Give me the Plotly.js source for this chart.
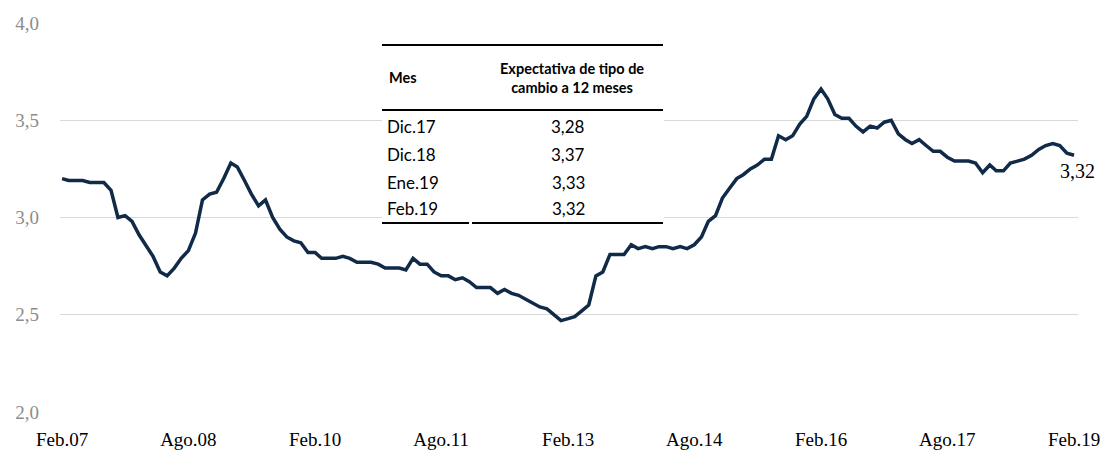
<!DOCTYPE html>
<html>
<head>
<meta charset="utf-8">
<script src="https://cdn.plot.ly/plotly-3.0.1.min.js"></script>
<style>html,body{margin:0;padding:0;background:#fff;}#chart{width:1108px;height:453px;}</style>
</head>
<body>
<div id="chart"></div>
<script>
// Monthly 12-month exchange-rate expectation, Feb.07 .. Feb.19 (S/ por US$)
const startYear = 2007, startMonth = 2;
const values = [
  3.20,3.19,3.19,3.19,3.18,3.18,3.18,3.14,3.00,3.01,2.98,2.91,
  2.85,2.80,2.72,2.70,2.74,2.79,2.83,2.92,3.09,3.12,3.13,3.20,
  3.28,3.26,3.19,3.12,3.06,3.09,3.00,2.94,2.90,2.88,2.87,2.82,
  2.82,2.79,2.79,2.79,2.80,2.79,2.77,2.77,2.77,2.76,2.74,2.74,
  2.74,2.73,2.79,2.76,2.76,2.72,2.70,2.70,2.68,2.69,2.67,2.64,
  2.64,2.64,2.61,2.63,2.61,2.60,2.58,2.56,2.54,2.53,2.50,2.47,
  2.48,2.49,2.52,2.55,2.70,2.72,2.81,2.81,2.81,2.86,2.84,2.85,
  2.84,2.85,2.85,2.84,2.85,2.84,2.86,2.90,2.98,3.01,3.10,3.15,
  3.20,3.22,3.25,3.27,3.30,3.30,3.42,3.40,3.42,3.48,3.52,3.61,
  3.66,3.61,3.53,3.51,3.51,3.47,3.44,3.47,3.46,3.49,3.50,3.43,
  3.40,3.38,3.40,3.37,3.34,3.34,3.31,3.29,3.29,3.29,3.28,3.23,
  3.27,3.24,3.24,3.28,3.29,3.30,3.32,3.35,3.37,3.38,3.37,3.33,
  3.32
];
const tickDates = ["2007-02-01","2008-08-01","2010-02-01","2011-08-01","2013-02-01","2014-08-01","2016-02-01","2017-08-01","2019-02-01"];
const tickLabels = ["Feb.07","Ago.08","Feb.10","Ago.11","Feb.13","Ago.14","Feb.16","Ago.17","Feb.19"];
const yTicks = [2.0, 2.5, 3.0, 3.5, 4.0];
const yTickLabels = ["2,0","2,5","3,0","3,5","4,0"];
const tableMonths = ["Dic.17","Dic.18","Ene.19","Feb.19"];
const tableValues = ["3,28","3,37","3,33","3,32"];
const tableHeader = ["Mes","Expectativa de tipo de<br>cambio a 12 meses"];
const lastLabel = "3,32";

// month dates for the series
const dates = values.map((_, i) => {
  const m = startMonth - 1 + i;
  const y = startYear + Math.floor(m / 12);
  const mm = (m % 12) + 1;
  return y + "-" + String(mm).padStart(2, "0") + "-01";
});

// pixel -> paper helpers (plot area: x 60..1078, y 23..412)
const L = 60, R = 1078, T = 23, B = 412;
const px = x => (x - L) / (R - L);
const py = y => (B - y) / (B - T);

const shapes = [
  {type:"rect", xref:"paper", yref:"paper", x0:px(382), x1:px(664), y0:py(224), y1:py(44), fillcolor:"#ffffff", line:{width:0}, layer:"above"},
  {type:"line", xref:"paper", yref:"paper", x0:px(382), x1:px(663), y0:py(45), y1:py(45), line:{color:"#000", width:2}, layer:"above"},
  {type:"line", xref:"paper", yref:"paper", x0:px(382), x1:px(663), y0:py(110), y1:py(110), line:{color:"#000", width:2}, layer:"above"},
  {type:"line", xref:"paper", yref:"paper", x0:px(382), x1:px(469), y0:py(223), y1:py(223), line:{color:"#000", width:2}, layer:"above"},
  {type:"line", xref:"paper", yref:"paper", x0:px(472), x1:px(663), y0:py(223), y1:py(223), line:{color:"#000", width:2}, layer:"above"}
];

const tfont = "Lato";
const serif = "Liberation Serif";
const annotations = [
  {xref:"paper", yref:"paper", x:px(387), y:py(78), xanchor:"left", yanchor:"middle", text:"<b>"+tableHeader[0]+"</b>", showarrow:false, font:{family:tfont, size:14.5, color:"#000"}},
  {xref:"paper", yref:"paper", x:px(572), y:py(78), xanchor:"center", yanchor:"middle", text:"<b>"+tableHeader[1]+"</b>", showarrow:false, align:"center", font:{family:tfont, size:14.5, color:"#000"}},
  {xref:"x", yref:"y", x:dates[dates.length-1], y:values[values.length-1], xanchor:"center", yanchor:"top", xshift:3, yshift:-3, text:lastLabel, showarrow:false, font:{family:serif, size:20, color:"#000"}}
];
const rowY = [127, 154, 182, 209];
tableMonths.forEach((m, i) => {
  annotations.push({xref:"paper", yref:"paper", x:px(385), y:py(rowY[i]), xanchor:"left", yanchor:"middle", text:m, showarrow:false, font:{family:tfont, size:17, color:"#000"}});
  annotations.push({xref:"paper", yref:"paper", x:px(568), y:py(rowY[i]), xanchor:"center", yanchor:"middle", text:tableValues[i], showarrow:false, font:{family:tfont, size:17, color:"#000"}});
});

const trace = {
  x: dates, y: values, type:"scatter", mode:"lines",
  line:{color:"#112a47", width:3.5, shape:"linear"},
  hoverinfo:"x+y"
};

const layout = {
  width:1108, height:453,
  margin:{l:L, r:1108-R, t:T, b:453-B},
  paper_bgcolor:"#fff", plot_bgcolor:"#fff",
  showlegend:false,
  separators:", ",
  xaxis:{
    type:"date", range:["2007-01-23","2019-02-18"],
    tickvals:tickDates, ticktext:tickLabels,
    showgrid:false, zeroline:false, showline:false, ticks:"",
    ticklabelstandoff:14,
    tickfont:{family:serif, size:19, color:"#000"}
  },
  yaxis:{
    range:[2, 4], tickvals:yTicks, ticktext:yTickLabels,
    showgrid:true, gridcolor:"#d9d9d9", gridwidth:1,
    zeroline:false, showline:false, ticks:"",
    ticklabelstandoff:20,
    tickfont:{family:serif, size:19, color:"#8c8c8c"}
  },
  shapes: shapes,
  annotations: annotations
};

Plotly.newPlot("chart", [trace], layout, {displayModeBar:false, staticPlot:true});
</script>
</body>
</html>
